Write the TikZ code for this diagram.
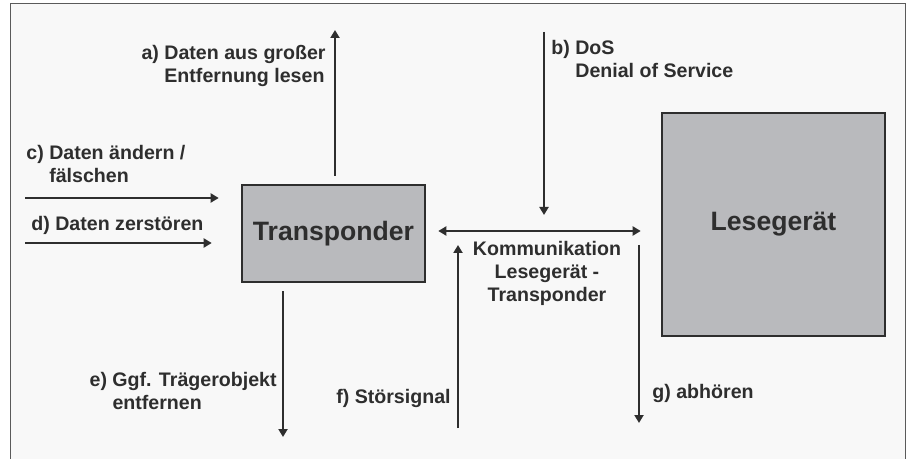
\documentclass[tikz,border=0pt]{standalone}
\usepackage{fontspec}
\setmainfont{Liberation Sans}
\usetikzlibrary{arrows.meta}
\definecolor{ink}{HTML}{2E2E2E}
\definecolor{boxgray}{HTML}{B9BABD}
\definecolor{pale}{HTML}{F8F8F8}
\definecolor{rim}{HTML}{5A5A5A}

\begin{document}
\begin{tikzpicture}[x=0.5pt,y=-0.5pt,font=\bfseries\fontsize{9.8}{11.5}\selectfont,
  arr/.style={draw=ink,line width=1.4pt,-{Triangle[length=4pt,width=4.5pt]}},
  dev/.style={draw=ink,line width=1.3pt,fill=boxgray,inner sep=0pt,text=ink,font=\bfseries\fontsize{13.3}{16}\selectfont},
  lbl/.style={text=ink,align=left,inner sep=0pt}]
  \useasboundingbox (0,0) rectangle (909,459);
  \fill[pale] (10,4) rectangle (905,459);
  \draw[rim,line width=0.5pt] (10,459) -- (10,4) -- (905,4) -- (905,459);
  % the two devices
  \node[dev,minimum width=91.5pt,minimum height=48.5pt] (tr) at (333.5,233.5) {Transponder};
  \node[dev,minimum width=111.5pt,minimum height=111.5pt] (le) at (773.5,224.5) {Lesegerät};
  % attack labels
  \node[lbl,anchor=east] (la) at (326,66) {a)~Daten aus großer\\\phantom{a)~}Entfernung lesen};
  \node[lbl,anchor=west] (lb) at (551,61) {b)~DoS\\\phantom{b)~}Denial of Service};
  \node[lbl,anchor=west] (lc) at (26,166) {c)~Daten ändern /\\\phantom{c)~}fälschen};
  \node[lbl,anchor=west] (ld) at (31,225) {d)~Daten zerstören};
  \node[lbl,anchor=east] (lf) at (277,393) {e)~Ggf. Trägerobjekt\\\phantom{e)~}entfernen};
  \node[lbl,anchor=east] (lg) at (451,398) {f)~Störsignal};
  \node[lbl,anchor=west] (lh) at (652,393) {g)~abhören};
  \node[lbl,align=center,anchor=north] (komm) at (547,241) {Kommunikation\\Lesegerät -\\Transponder};
  % free ends of the arrows
  \coordinate (aEnd) at (335,30);
  \coordinate (bTop) at (544,32);
  \coordinate (bEnd) at (544,215);
  \coordinate (cStart) at (25,198);
  \coordinate (dStart) at (25,243);
  \coordinate (kmid) at (540,231);
  \coordinate (eEnd) at (283,437);
  \coordinate (fStart) at (458,428);
  \coordinate (fEnd) at (458,245);
  \coordinate (gStart) at (639,245);
  \coordinate (gEnd) at (639,423);
  % arrows
  \draw[arr,shorten <=4pt] (tr.north -| aEnd) -- (aEnd);
  \draw[arr] (bTop) -- (bEnd);
  \draw[arr,shorten >=11pt] (cStart) -- (cStart -| tr.west);
  \draw[arr,shorten >=14.5pt] (dStart) -- (dStart -| tr.west);
  \draw[arr,{Triangle[length=4pt,width=4.5pt]}-{Triangle[length=4pt,width=4.5pt]},shorten <=6pt,shorten >=10pt] (tr.east |- kmid) -- (le.west |- kmid);
  \draw[arr,shorten <=4pt] (tr.south -| eEnd) -- (eEnd);
  \draw[arr] (fStart) -- (fEnd);
  \draw[arr] (gStart) -- (gEnd);
\end{tikzpicture}
\end{document}
